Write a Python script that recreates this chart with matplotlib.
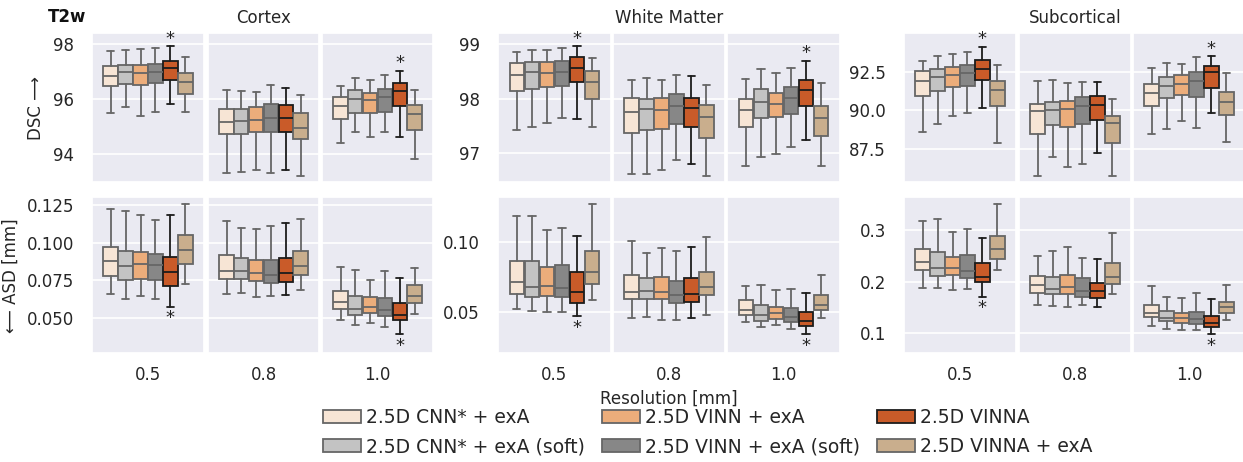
import numpy as np
import matplotlib
matplotlib.use("Agg")
import matplotlib.pyplot as plt
import seaborn as sns
from matplotlib.patches import Patch

sns.set_theme(style="darkgrid")
plt.rcParams['font.family'] = ['DejaVu Sans']

resolutions = ["0.5", "0.8", "1.0"]
regions = ["Cortex", "White Matter", "Subcortical"]
models = ["2.5D CNN* + exA", "2.5D CNN* + exA (soft)", "2.5D VINN + exA",
          "2.5D VINN + exA (soft)", "2.5D VINNA", "2.5D VINNA + exA"]
colors = ["#F7E5D5", "#C3C3C3", "#ECAD7B", "#878787", "#C95B29", "#C9AE8D"]
edge_colors = ["#666666", "#666666", "#666666", "#666666", "#1c1c1c", "#666666"]
starred = ["0.5", "1.0"]   # resolutions where VINNA is significantly better
star_model = 4

# five-number summaries: (whisker low, q1, median, q3, whisker high), per resolution
cortex_dsc = [
    [(95.50, 96.46, 96.85, 97.21, 97.76), (95.73, 96.56, 96.97, 97.24, 97.77),
     (95.38, 96.51, 96.95, 97.24, 97.81), (95.54, 96.58, 96.99, 97.27, 97.87),
     (95.83, 96.70, 97.13, 97.38, 97.92), (95.54, 96.18, 96.62, 96.93, 97.54)],
    [(93.31, 94.73, 95.16, 95.65, 96.32), (93.36, 94.73, 95.21, 95.65, 96.30),
     (93.43, 94.80, 95.25, 95.73, 96.27), (93.33, 94.80, 95.33, 95.83, 96.52),
     (93.41, 94.80, 95.30, 95.77, 96.41), (93.21, 94.55, 94.95, 95.49, 96.16)],
    [(94.42, 95.27, 95.76, 96.07, 96.48), (94.81, 95.49, 96.02, 96.33, 96.75),
     (94.64, 95.48, 95.98, 96.22, 96.68), (94.79, 95.53, 96.08, 96.36, 96.86),
     (94.64, 95.76, 96.30, 96.57, 97.03), (93.84, 94.88, 95.47, 95.79, 96.34)],
]
cortex_asd = [
    [(0.0660, 0.0778, 0.0880, 0.0968, 0.1223), (0.0627, 0.0751, 0.0846, 0.0946, 0.1210),
     (0.0645, 0.0758, 0.0855, 0.0935, 0.1186), (0.0625, 0.0753, 0.0851, 0.0926, 0.1152),
     (0.0573, 0.0713, 0.0802, 0.0904, 0.1181), (0.0722, 0.0855, 0.0948, 0.1048, 0.1254)],
    [(0.0656, 0.0760, 0.0813, 0.0915, 0.1141), (0.0664, 0.0760, 0.0813, 0.0900, 0.1099),
     (0.0640, 0.0742, 0.0800, 0.0886, 0.1093), (0.0645, 0.0731, 0.0786, 0.0882, 0.1110),
     (0.0649, 0.0735, 0.0795, 0.0900, 0.1132), (0.0684, 0.0782, 0.0842, 0.0942, 0.1157)],
    [(0.0483, 0.0560, 0.0602, 0.0676, 0.0835), (0.0449, 0.0520, 0.0558, 0.0642, 0.0815),
     (0.0467, 0.0534, 0.0569, 0.0638, 0.0753), (0.0436, 0.0514, 0.0551, 0.0631, 0.0811),
     (0.0389, 0.0487, 0.0520, 0.0596, 0.0764), (0.0525, 0.0596, 0.0642, 0.0715, 0.0829)],
]
wm_dsc = [
    [(97.43, 98.14, 98.44, 98.65, 98.86), (97.48, 98.17, 98.49, 98.68, 98.90),
     (97.55, 98.22, 98.47, 98.68, 98.90), (97.65, 98.23, 98.49, 98.69, 98.93),
     (97.63, 98.31, 98.56, 98.77, 98.96), (97.48, 98.00, 98.30, 98.51, 98.75)],
    [(96.63, 97.37, 97.76, 98.01, 98.35), (96.62, 97.43, 97.81, 98.00, 98.38),
     (96.69, 97.45, 97.79, 98.02, 98.35), (96.87, 97.54, 97.86, 98.08, 98.44),
     (96.80, 97.48, 97.83, 98.01, 98.42), (96.58, 97.29, 97.66, 97.89, 98.26)],
    [(96.76, 97.48, 97.80, 97.99, 98.36), (96.94, 97.64, 97.94, 98.18, 98.54),
     (96.98, 97.66, 97.91, 98.11, 98.47), (97.12, 97.73, 98.01, 98.22, 98.56),
     (97.24, 97.86, 98.16, 98.34, 98.70), (96.76, 97.32, 97.65, 97.87, 98.28)],
]
wm_asd = [
    [(0.0519, 0.0630, 0.0714, 0.0863, 0.1188), (0.0507, 0.0608, 0.0680, 0.0863, 0.1192),
     (0.0498, 0.0613, 0.0687, 0.0825, 0.1089), (0.0498, 0.0608, 0.0673, 0.0834, 0.1101),
     (0.0469, 0.0565, 0.0639, 0.0786, 0.1048), (0.0582, 0.0697, 0.0784, 0.0935, 0.1276)],
    [(0.0454, 0.0589, 0.0642, 0.0767, 0.1012), (0.0461, 0.0589, 0.0651, 0.0740, 0.0925),
     (0.0437, 0.0589, 0.0639, 0.0748, 0.0957), (0.0437, 0.0560, 0.0620, 0.0721, 0.0935),
     (0.0454, 0.0567, 0.0630, 0.0745, 0.0966), (0.0476, 0.0618, 0.0680, 0.0788, 0.1038)],
    [(0.0428, 0.0474, 0.0512, 0.0582, 0.0683), (0.0389, 0.0435, 0.0474, 0.0546, 0.0695),
     (0.0404, 0.0449, 0.0490, 0.0534, 0.0654), (0.0373, 0.0425, 0.0464, 0.0524, 0.0666),
     (0.0339, 0.0394, 0.0435, 0.0495, 0.0635), (0.0454, 0.0514, 0.0550, 0.0618, 0.0767)],
]
sub_dsc = [
    [(88.61, 90.91, 91.91, 92.54, 93.24), (89.09, 91.26, 92.20, 92.72, 93.57),
     (89.61, 91.52, 92.30, 92.85, 93.70), (89.80, 91.59, 92.46, 92.96, 93.80),
     (90.15, 91.98, 92.72, 93.28, 94.15), (87.89, 90.28, 91.30, 91.93, 92.93)],
    [(85.72, 88.48, 89.93, 90.43, 91.89), (86.93, 89.04, 90.02, 90.54, 91.98),
     (86.28, 88.89, 90.07, 90.61, 91.78), (86.48, 89.09, 90.28, 90.87, 91.83),
     (87.20, 89.37, 90.37, 90.91, 91.83), (85.72, 87.85, 89.15, 89.63, 90.72)],
    [(88.43, 90.28, 91.11, 91.74, 92.74), (88.80, 90.80, 91.57, 92.15, 93.07),
     (89.33, 91.02, 91.72, 92.28, 93.00), (88.87, 90.89, 91.91, 92.50, 93.50),
     (89.80, 91.46, 92.50, 92.87, 93.54), (87.93, 89.70, 90.54, 91.22, 92.41)],
]
sub_asd = [
    [(0.1877, 0.2232, 0.2387, 0.2626, 0.3174), (0.1877, 0.2116, 0.2271, 0.2568, 0.3213),
     (0.1845, 0.2123, 0.2271, 0.2484, 0.2955), (0.1858, 0.2071, 0.2206, 0.2516, 0.3026),
     (0.1710, 0.1987, 0.2097, 0.2355, 0.2839), (0.2219, 0.2432, 0.2626, 0.2890, 0.3503)],
    [(0.1555, 0.1774, 0.1929, 0.2116, 0.2503), (0.1529, 0.1761, 0.1865, 0.2097, 0.2587),
     (0.1516, 0.1761, 0.1903, 0.2129, 0.2677), (0.1555, 0.1710, 0.1826, 0.2077, 0.2458),
     (0.1516, 0.1690, 0.1813, 0.1981, 0.2439), (0.1768, 0.1955, 0.2097, 0.2368, 0.2948)],
    [(0.1148, 0.1316, 0.1400, 0.1555, 0.1910), (0.1090, 0.1232, 0.1297, 0.1432, 0.1710),
     (0.1071, 0.1206, 0.1303, 0.1394, 0.1684), (0.1065, 0.1181, 0.1284, 0.1413, 0.1781),
     (0.0981, 0.1116, 0.1194, 0.1335, 0.1665), (0.1252, 0.1387, 0.1503, 0.1613, 0.1935)],
]

dsc_data = [cortex_dsc, wm_dsc, sub_dsc]
asd_data = [cortex_asd, wm_asd, sub_asd]
dsc_ylims = [(92.98, 98.41), (96.47, 99.21), (85.30, 95.07)]
asd_ylims = [(0.0263, 0.1301), (0.0199, 0.1325), (0.0613, 0.3632)]
dsc_ticks = [[94, 96, 98], [97, 98, 99], [87.5, 90.0, 92.5]]
asd_ticks = [[0.050, 0.075, 0.100, 0.125], [0.05, 0.10], [0.1, 0.2, 0.3]]
asd_fmt = ["{:.3f}", "{:.2f}", "{:.1f}"]
dsc_fmt = ["{:.0f}", "{:.0f}", "{:.1f}"]

W, H = 1243, 462
fig = plt.figure(figsize=(W / 100, H / 100), dpi=100)

# panel edges in pixels
col_px = [(92, 204), (208, 319), (322, 433),
          (498, 611), (613, 725), (727, 840),
          (904, 1016), (1019, 1131), (1133, 1245)]
row_px = [(32.7, 182.3), (197.3, 353.3)]

n = len(models)
step = 0.8 / n
positions = [(i - (n - 1) / 2) * step for i in range(n)]


def draw_panel(ax, boxes, ylim, star, top_row):
    stats = [dict(whislo=b[0], q1=b[1], med=b[2], q3=b[3], whishi=b[4]) for b in boxes]
    art = ax.bxp(stats, positions=positions, widths=step * 0.97, patch_artist=True,
                 showfliers=False, manage_ticks=False)
    for i in range(n):
        ec = edge_colors[i]
        art['boxes'][i].set(facecolor=colors[i], edgecolor=ec, linewidth=1.3)
        art['medians'][i].set(color=ec, linewidth=1.3)
        for ln in art['whiskers'][2 * i:2 * i + 2] + art['caps'][2 * i:2 * i + 2]:
            ln.set(color=ec, linewidth=1.3)
    if star:
        b = boxes[star_model]
        if top_row:
            ax.annotate("*", (positions[star_model], b[4]), xytext=(0, -1),
                        textcoords="offset points", ha="center", va="bottom",
                        fontsize=13, color="#222222")
        else:
            ax.annotate("*", (positions[star_model], b[0]), xytext=(0, -2),
                        textcoords="offset points", ha="center", va="top",
                        fontsize=13, color="#222222")
    ax.set_xlim(-0.5, 0.5)
    ax.set_ylim(*ylim)
    ax.grid(axis="x", visible=False)
    ax.grid(axis="y", color="white", linewidth=1.2)
    ax.tick_params(axis="y", labelsize=12, pad=7, colors="#262626")
    ax.tick_params(axis="x", labelsize=12, pad=3, colors="#262626")


axes = {}
for r, (y0, y1) in enumerate(row_px):
    for c, (x0, x1) in enumerate(col_px):
        ax = fig.add_axes([x0 / W, 1 - y1 / H, (x1 - x0) / W, (y1 - y0) / H])
        g, k = divmod(c, 3)
        if r == 0:
            boxes = dsc_data[g][k]
            draw_panel(ax, boxes, dsc_ylims[g], resolutions[k] in starred, True)
            ticks, fmt = dsc_ticks[g], dsc_fmt[g]
            ax.set_xticks([])
            if k == 1:
                ax.set_title(regions[g], fontsize=12, pad=7, color="#262626")
        else:
            boxes = asd_data[g][k]
            draw_panel(ax, boxes, asd_ylims[g], resolutions[k] in starred, False)
            ticks, fmt = asd_ticks[g], asd_fmt[g]
            ax.set_xticks([0])
            ax.set_xticklabels([resolutions[k]])
        ax.set_yticks(ticks)
        if k == 0:
            ax.set_yticklabels([fmt.format(t) for t in ticks])
        else:
            ax.set_yticklabels([])
            ax.tick_params(axis="y", length=0)
        axes[(r, c)] = ax

axes[(0, 0)].set_ylabel("DSC \u27f6", fontsize=12, labelpad=6, color="#262626")
axes[(1, 0)].set_ylabel("\u27f5 ASD [mm]", fontsize=12, labelpad=5, color="#262626")
axes[(1, 4)].set_xlabel("Resolution [mm]", fontsize=12, labelpad=4, color="#262626")
fig.text(48 / W, 1 - 17.5 / H, "T2w", fontsize=12, fontweight="bold",
         ha="left", va="center", color="#111111")

handles = [Patch(facecolor=colors[i], edgecolor=edge_colors[i], linewidth=1.3)
           for i in range(n)]
fig.legend(handles, models, ncol=3, loc="center", bbox_to_anchor=(708 / W, 1 - 432 / H),
           frameon=False, fontsize=13.5, handlelength=2.0, handleheight=0.7,
           handletextpad=0.3, columnspacing=0.9, labelspacing=0.55)

fig.savefig("out.png", dpi=100)
